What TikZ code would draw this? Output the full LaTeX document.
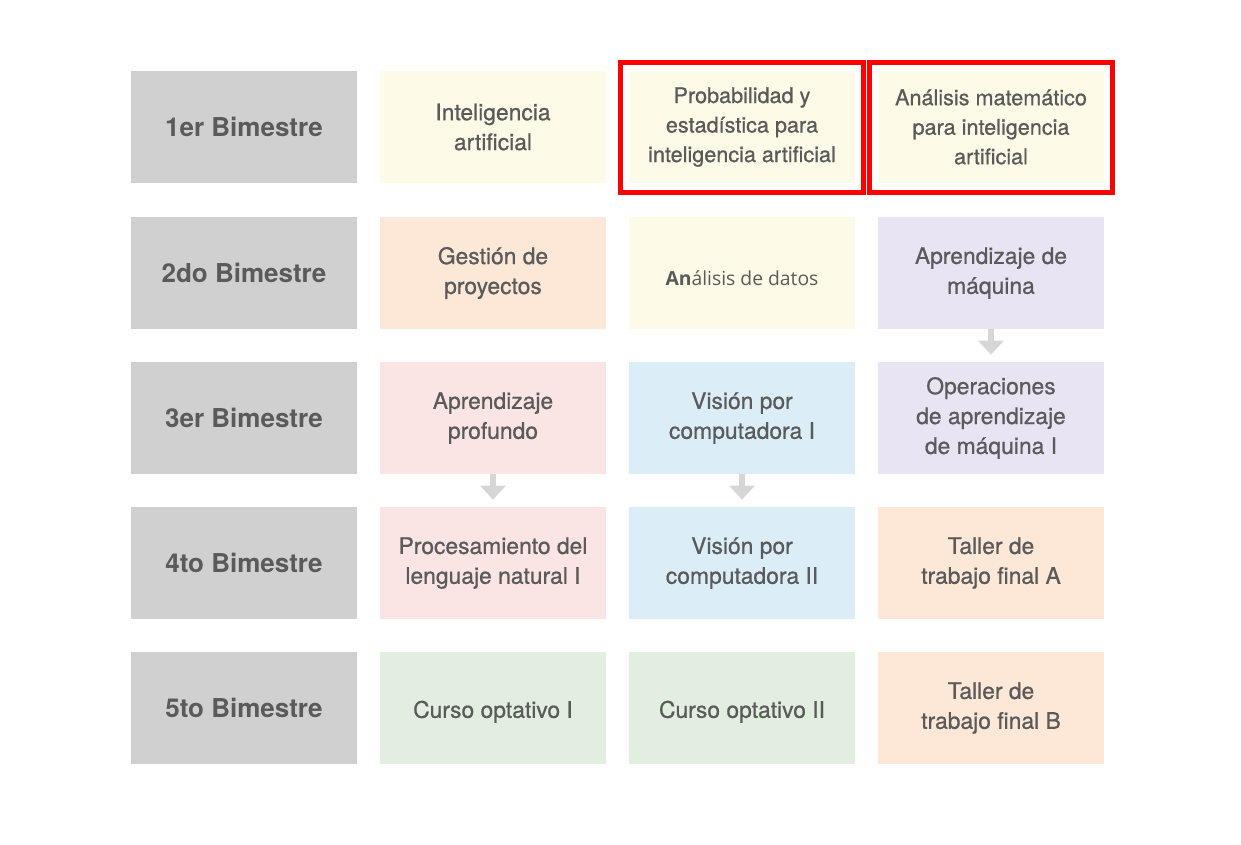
\documentclass[tikz,border=0pt]{standalone}
\usepackage{fontspec}
\setmainfont{TeX Gyre Heros}
\newfontfamily\celdafont[FakeBold=0.7]{TeX Gyre Heros}
\newfontfamily\datosfont{Open Sans}
\usetikzlibrary{positioning,arrows.meta}
\definecolor{txtgray}{HTML}{5A5A5A}
\definecolor{bimgray}{HTML}{D0D0D0}
\definecolor{amarillo}{HTML}{FEFAE8}
\definecolor{durazno}{HTML}{FDE8D8}
\definecolor{lavanda}{HTML}{E8E4F4}
\definecolor{rosa}{HTML}{FBE4E4}
\definecolor{celeste}{HTML}{DBEEF8}
\definecolor{verde}{HTML}{E2EFE0}
\definecolor{flechagray}{HTML}{D6D6D6}
\begin{document}
\begin{tikzpicture}[x=0.02cm,y=-0.02cm,
  every node/.style={minimum width=4.52cm,minimum height=2.24cm,inner sep=0pt,align=center,text=txtgray,font=\celdafont\fontsize{13}{17}\selectfont},
  celda/.style={fill=#1,execute at begin node={\rule{0pt}{14pt}}},
  chica/.style={font=\celdafont\fontsize{12.3}{16.8}\selectfont},
  bim/.style={fill=bimgray,font=\fontsize{14.8}{18}\selectfont\bfseries},
  flecha/.style={flechagray,line width=0.13cm,shorten >=0.14cm,-{Triangle[width=0.5cm,length=0.28cm]}},
  rojo/.style={draw=red,line width=0.1cm}]
  \useasboundingbox (0,0) rectangle (1241,845);
  % columna de bimestres
  \node[bim] (b1) at (244,127) {1er Bimestre};
  \node[bim] (b2) at (244,273) {2do Bimestre};
  \node[bim] (b3) at (244,418) {3er Bimestre};
  \node[bim] (b4) at (244,563) {4to Bimestre};
  \node[bim] (b5) at (244,708) {5to Bimestre};
  % primer bimestre
  \node[celda=amarillo] (c11) at (493,127) {Inteligencia\\artificial};
  \node[celda=amarillo,chica] (c12) at (742,127) {Probabilidad y\\estadística para\\inteligencia artificial};
  \node[celda=amarillo,chica] (c13) at (991,127) {Análisis matemático\\para inteligencia\\artificial};
  % segundo bimestre
  \node[celda=durazno] (c21) at (493,273) {Gestión de\\proyectos};
  \node[celda=amarillo,font=\datosfont\fontsize{11}{17}\selectfont] (c22) at (742,273) {\textbf{An}álisis de datos};
  \node[celda=lavanda] (c23) at (991,273) {Aprendizaje de\\máquina};
  % tercer bimestre
  \node[celda=rosa] (c31) at (493,418) {Aprendizaje\\profundo};
  \node[celda=celeste] (c32) at (742,418) {Visión por\\computadora I};
  \node[celda=lavanda] (c33) at (991,418) {Operaciones\\de aprendizaje\\de máquina I};
  % cuarto bimestre
  \node[celda=rosa] (c41) at (493,563) {Procesamiento del\\lenguaje natural I};
  \node[celda=celeste] (c42) at (742,563) {Visión por\\computadora II};
  \node[celda=durazno] (c43) at (991,563) {Taller de\\trabajo final A};
  % quinto bimestre
  \node[celda=verde] (c51) at (493,708) {Curso optativo I};
  \node[celda=verde] (c52) at (742,708) {Curso optativo II};
  \node[celda=durazno] (c53) at (991,708) {Taller de\\trabajo final B};
  % correlativas
  \draw[flecha] (c23.south) -- (c33.north);
  \draw[flecha] (c31.south) -- (c41.north);
  \draw[flecha] (c32.south) -- (c42.north);
  % recuadros rojos
  \draw[rojo] ([shift={(-0.16cm,0.17cm)}]c12.north west) rectangle ([shift={(0.17cm,-0.19cm)}]c12.south east);
  \draw[rojo] ([shift={(-0.16cm,0.17cm)}]c13.north west) rectangle ([shift={(0.17cm,-0.19cm)}]c13.south east);
\end{tikzpicture}
\end{document}
